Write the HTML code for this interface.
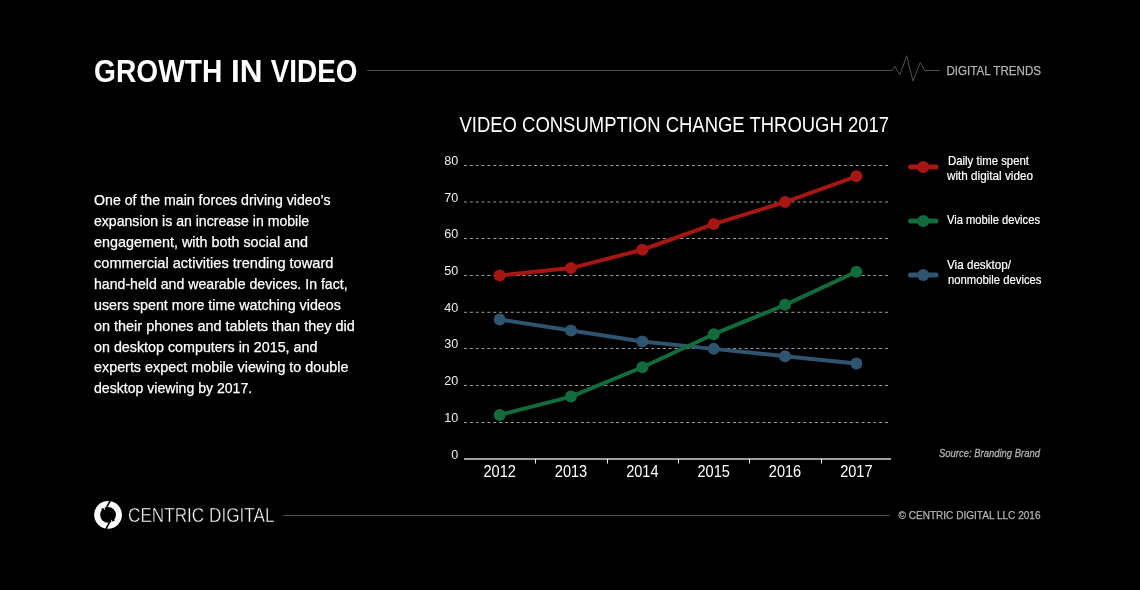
<!DOCTYPE html><html><head><meta charset="utf-8"><style>html,body{margin:0;padding:0;background:#000;width:1140px;height:590px;overflow:hidden}svg{display:block;will-change:transform}text{font-family:"Liberation Sans",sans-serif}</style></head><body>
<svg width="1140" height="590" viewBox="0 0 1140 590">
<rect width="1140" height="590" fill="#000"/>
<text x="94.00" y="81.9" font-size="32" font-weight="bold" fill="#fff" textLength="128.30" lengthAdjust="spacingAndGlyphs">GROWTH</text>
<text x="230.90" y="81.9" font-size="32" font-weight="bold" fill="#fff" textLength="31.50" lengthAdjust="spacingAndGlyphs">IN</text>
<text x="270.80" y="81.9" font-size="32" font-weight="bold" fill="#fff" textLength="86.60" lengthAdjust="spacingAndGlyphs">VIDEO</text>
<polyline points="367,70.5 892,70.5 894.7,66.4 899.9,74.8 906.7,55.7 913,81.1 920.2,62.5 924.9,70.5 940,70.5" fill="none" stroke="#505050" stroke-width="1"/>
<text x="946.5" y="74.8" font-size="12.6" fill="#b4b4b4" stroke="#b4b4b4" stroke-width="0.25" textLength="94.5" lengthAdjust="spacingAndGlyphs">DIGITAL TRENDS</text>
<text x="459.5" y="132" font-size="21.8" fill="#fff" textLength="429.5" lengthAdjust="spacingAndGlyphs">VIDEO CONSUMPTION CHANGE THROUGH 2017</text>
<line x1="464" y1="422.50" x2="888" y2="422.50" stroke="#9a9a9a" stroke-width="1" stroke-dasharray="3 2.847"/>
<text x="458.3" y="422.20" font-size="12.6" fill="#eee" text-anchor="end">10</text>
<line x1="464" y1="385.50" x2="888" y2="385.50" stroke="#9a9a9a" stroke-width="1" stroke-dasharray="3 2.847"/>
<text x="458.3" y="385.20" font-size="12.6" fill="#eee" text-anchor="end">20</text>
<line x1="464" y1="348.50" x2="888" y2="348.50" stroke="#9a9a9a" stroke-width="1" stroke-dasharray="3 2.847"/>
<text x="458.3" y="348.20" font-size="12.6" fill="#eee" text-anchor="end">30</text>
<line x1="464" y1="312.30" x2="888" y2="312.30" stroke="#9a9a9a" stroke-width="1" stroke-dasharray="3 2.847"/>
<text x="458.3" y="312.00" font-size="12.6" fill="#eee" text-anchor="end">40</text>
<line x1="464" y1="275.50" x2="888" y2="275.50" stroke="#9a9a9a" stroke-width="1" stroke-dasharray="3 2.847"/>
<text x="458.3" y="275.20" font-size="12.6" fill="#eee" text-anchor="end">50</text>
<line x1="464" y1="238.50" x2="888" y2="238.50" stroke="#9a9a9a" stroke-width="1" stroke-dasharray="3 2.847"/>
<text x="458.3" y="238.20" font-size="12.6" fill="#eee" text-anchor="end">60</text>
<line x1="464" y1="202.00" x2="888" y2="202.00" stroke="#9a9a9a" stroke-width="1" stroke-dasharray="3 2.847"/>
<text x="458.3" y="201.70" font-size="12.6" fill="#eee" text-anchor="end">70</text>
<line x1="464" y1="165.50" x2="888" y2="165.50" stroke="#9a9a9a" stroke-width="1" stroke-dasharray="3 2.847"/>
<text x="458.3" y="165.20" font-size="12.6" fill="#eee" text-anchor="end">80</text>
<text x="458.3" y="458.5" font-size="12.6" fill="#eee" text-anchor="end">0</text>
<line x1="464" y1="459" x2="891" y2="459" stroke="#9c9c9c" stroke-width="2"/>
<line x1="535.5" y1="459" x2="535.5" y2="463.5" stroke="#eee" stroke-width="1"/>
<line x1="607.5" y1="459" x2="607.5" y2="463.5" stroke="#eee" stroke-width="1"/>
<line x1="678.5" y1="459" x2="678.5" y2="463.5" stroke="#eee" stroke-width="1"/>
<line x1="749.5" y1="459" x2="749.5" y2="463.5" stroke="#eee" stroke-width="1"/>
<line x1="821.5" y1="459" x2="821.5" y2="463.5" stroke="#eee" stroke-width="1"/>
<text transform="translate(499.67,477) scale(1,1.08)" x="0" y="0" font-size="15.2" fill="#fff" text-anchor="middle" textLength="32.4" lengthAdjust="spacingAndGlyphs">2012</text>
<text transform="translate(571.01,477) scale(1,1.08)" x="0" y="0" font-size="15.2" fill="#fff" text-anchor="middle" textLength="32.4" lengthAdjust="spacingAndGlyphs">2013</text>
<text transform="translate(642.35,477) scale(1,1.08)" x="0" y="0" font-size="15.2" fill="#fff" text-anchor="middle" textLength="32.4" lengthAdjust="spacingAndGlyphs">2014</text>
<text transform="translate(713.69,477) scale(1,1.08)" x="0" y="0" font-size="15.2" fill="#fff" text-anchor="middle" textLength="32.4" lengthAdjust="spacingAndGlyphs">2015</text>
<text transform="translate(785.03,477) scale(1,1.08)" x="0" y="0" font-size="15.2" fill="#fff" text-anchor="middle" textLength="32.4" lengthAdjust="spacingAndGlyphs">2016</text>
<text transform="translate(856.37,477) scale(1,1.08)" x="0" y="0" font-size="15.2" fill="#fff" text-anchor="middle" textLength="32.4" lengthAdjust="spacingAndGlyphs">2017</text>
<polyline points="499.67,319.50 571.01,330.51 642.35,341.53 713.69,348.87 785.03,356.21 856.37,363.55" fill="none" stroke="#2e5470" stroke-width="4" stroke-linejoin="round"/>
<circle cx="499.67" cy="319.50" r="6" fill="#2e5470"/>
<circle cx="571.01" cy="330.51" r="6" fill="#2e5470"/>
<circle cx="642.35" cy="341.53" r="6" fill="#2e5470"/>
<circle cx="713.69" cy="348.87" r="6" fill="#2e5470"/>
<circle cx="785.03" cy="356.21" r="6" fill="#2e5470"/>
<circle cx="856.37" cy="363.55" r="6" fill="#2e5470"/>
<polyline points="499.67,414.95 571.01,396.59 642.35,367.23 713.69,334.19 785.03,304.82 856.37,271.78" fill="none" stroke="#116b3b" stroke-width="4" stroke-linejoin="round"/>
<circle cx="499.67" cy="414.95" r="6" fill="#116b3b"/>
<circle cx="571.01" cy="396.59" r="6" fill="#116b3b"/>
<circle cx="642.35" cy="367.23" r="6" fill="#116b3b"/>
<circle cx="713.69" cy="334.19" r="6" fill="#116b3b"/>
<circle cx="785.03" cy="304.82" r="6" fill="#116b3b"/>
<circle cx="856.37" cy="271.78" r="6" fill="#116b3b"/>
<polyline points="499.67,275.45 571.01,268.11 642.35,249.75 713.69,224.06 785.03,202.03 856.37,176.33" fill="none" stroke="#a61613" stroke-width="4" stroke-linejoin="round"/>
<circle cx="499.67" cy="275.45" r="6" fill="#a61613"/>
<circle cx="571.01" cy="268.11" r="6" fill="#a61613"/>
<circle cx="642.35" cy="249.75" r="6" fill="#a61613"/>
<circle cx="713.69" cy="224.06" r="6" fill="#a61613"/>
<circle cx="785.03" cy="202.03" r="6" fill="#a61613"/>
<circle cx="856.37" cy="176.33" r="6" fill="#a61613"/>
<line x1="910.5" y1="166.9" x2="936" y2="166.9" stroke="#a61613" stroke-width="5" stroke-linecap="round"/>
<circle cx="923.2" cy="166.9" r="6" fill="#a61613"/>
<line x1="910.5" y1="220.9" x2="936" y2="220.9" stroke="#116b3b" stroke-width="5" stroke-linecap="round"/>
<circle cx="923.2" cy="220.9" r="6" fill="#116b3b"/>
<line x1="910.5" y1="275" x2="936" y2="275" stroke="#2e5470" stroke-width="5" stroke-linecap="round"/>
<circle cx="923.2" cy="275" r="6" fill="#2e5470"/>
<text x="948" y="164.7" font-size="12.2" fill="#fff" stroke="#fff" stroke-width="0.2" textLength="81" lengthAdjust="spacingAndGlyphs">Daily time spent</text>
<text x="947" y="179.6" font-size="12.2" fill="#fff" stroke="#fff" stroke-width="0.2" textLength="86" lengthAdjust="spacingAndGlyphs">with digital video</text>
<text x="947" y="223.5" font-size="12.2" fill="#fff" stroke="#fff" stroke-width="0.2" textLength="93" lengthAdjust="spacingAndGlyphs">Via mobile devices</text>
<text x="947" y="268.5" font-size="12.2" fill="#fff" stroke="#fff" stroke-width="0.2" textLength="64" lengthAdjust="spacingAndGlyphs">Via desktop/</text>
<text x="948" y="283.5" font-size="12.2" fill="#fff" stroke="#fff" stroke-width="0.2" textLength="93.5" lengthAdjust="spacingAndGlyphs">nonmobile devices</text>
<text x="939" y="456.8" font-size="10.9" font-style="italic" fill="#b0b0b0" stroke="#b0b0b0" stroke-width="0.3" textLength="101" lengthAdjust="spacingAndGlyphs">Source: Branding Brand</text>
<text x="94" y="205.20" font-size="14.8" fill="#fff" stroke="#fff" stroke-width="0.25" textLength="236.5" lengthAdjust="spacingAndGlyphs">One of the main forces driving video’s</text>
<text x="94" y="226.10" font-size="14.8" fill="#fff" stroke="#fff" stroke-width="0.25" textLength="215.2" lengthAdjust="spacingAndGlyphs">expansion is an increase in mobile</text>
<text x="94" y="247.00" font-size="14.8" fill="#fff" stroke="#fff" stroke-width="0.25" textLength="214.1" lengthAdjust="spacingAndGlyphs">engagement, with both social and</text>
<text x="94" y="267.90" font-size="14.8" fill="#fff" stroke="#fff" stroke-width="0.25" textLength="239.4" lengthAdjust="spacingAndGlyphs">commercial activities trending toward</text>
<text x="94" y="288.80" font-size="14.8" fill="#fff" stroke="#fff" stroke-width="0.25" textLength="253.6" lengthAdjust="spacingAndGlyphs">hand-held and wearable devices. In fact,</text>
<text x="94" y="309.70" font-size="14.8" fill="#fff" stroke="#fff" stroke-width="0.25" textLength="246.9" lengthAdjust="spacingAndGlyphs">users spent more time watching videos</text>
<text x="94" y="330.60" font-size="14.8" fill="#fff" stroke="#fff" stroke-width="0.25" textLength="260.7" lengthAdjust="spacingAndGlyphs">on their phones and tablets than they did</text>
<text x="94" y="351.50" font-size="14.8" fill="#fff" stroke="#fff" stroke-width="0.25" textLength="223.4" lengthAdjust="spacingAndGlyphs">on desktop computers in 2015, and</text>
<text x="94" y="372.40" font-size="14.8" fill="#fff" stroke="#fff" stroke-width="0.25" textLength="254.4" lengthAdjust="spacingAndGlyphs">experts expect mobile viewing to double</text>
<text x="94" y="393.30" font-size="14.8" fill="#fff" stroke="#fff" stroke-width="0.25" textLength="158.2" lengthAdjust="spacingAndGlyphs">desktop viewing by 2017.</text>
<line x1="283" y1="515.5" x2="890" y2="515.5" stroke="#4b4b4b" stroke-width="1"/>
<text x="898.5" y="518.7" font-size="11" fill="#b4b4b4" stroke="#b4b4b4" stroke-width="0.25" textLength="142" lengthAdjust="spacingAndGlyphs">© CENTRIC DIGITAL LLC 2016</text>
<text x="128" y="521.8" font-size="19.8" fill="#fff" stroke="#000" stroke-width="0.45" textLength="146.5" lengthAdjust="spacingAndGlyphs">CENTRIC DIGITAL</text>
<g transform="translate(108.05,514.85)">
<circle r="13.9" fill="#fff"/><circle r="7.9" fill="#000"/>
<polygon points="-4.1,-7.3 -3.7,-4.7 -2.4,-5.8" fill="#fff"/><polygon points="4.1,7.3 3.7,4.7 2.4,5.8" fill="#fff"/>
<circle cx="-5.3" cy="-5.5" r="1.2" fill="#000"/><circle cx="5.2" cy="5.3" r="1.2" fill="#000"/>
<line x1="2.7" y1="-15.2" x2="-2.7" y2="-5" stroke="#000" stroke-width="1.6"/>
<line x1="2.7" y1="5" x2="-2.7" y2="15.2" stroke="#000" stroke-width="1.6"/>
</g>
</svg></body></html>
